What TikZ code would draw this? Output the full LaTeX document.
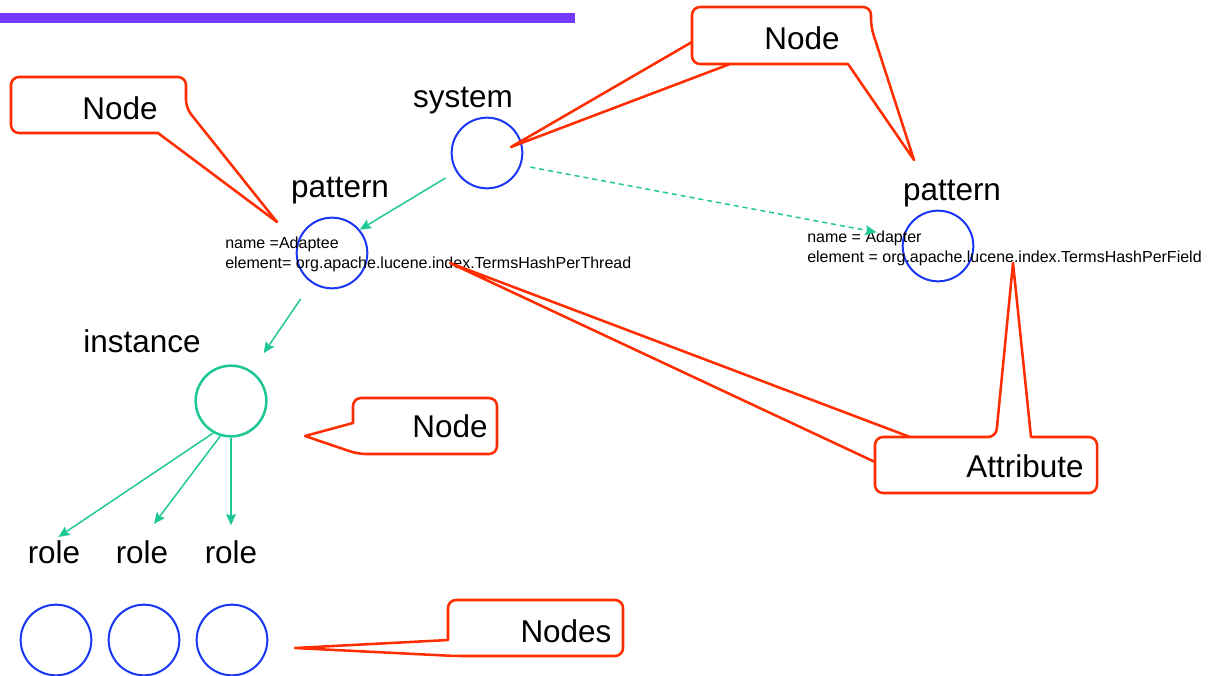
\documentclass[tikz,border=0pt]{standalone}
\usepackage{fontspec}
\setmainfont{Liberation Sans}
\usetikzlibrary{arrows.meta}

\definecolor{nodeblue}{RGB}{25,55,245}
\definecolor{calloutred}{RGB}{255,45,0}
\definecolor{linkteal}{RGB}{30,200,150}
\definecolor{barpurple}{RGB}{116,58,255}

\tikzset{
  bigtext/.style={font=\fontsize{23.6}{28}\selectfont, inner sep=0pt, anchor=base},
  attrtext/.style={font=\fontsize{12}{15}\selectfont, inner sep=0pt, anchor=north west, align=left},
  elemnode/.style={circle, draw=nodeblue, line width=1.5pt, minimum size=53pt, inner sep=0pt},
  instnode/.style={circle, draw=linkteal, line width=1.9pt, minimum size=53pt, inner sep=0pt},
  link/.style={draw=linkteal, line width=1.1pt, -{Stealth[length=8.5pt,width=7.5pt,inset=1.5pt]}},
  callout/.style={draw=calloutred, line width=1.9pt, line join=round, rounded corners=6pt},
}

\begin{document}
\begin{tikzpicture}[x=0.75pt,y=0.75pt,yscale=-1]
\useasboundingbox (0,0) rectangle (1212,675);

%Shape: Rectangle
\fill[barpurple] (0,13) rectangle (575,23);

%Shape: Circle
\node[elemnode] (sys) at (487,153) {};
\node[elemnode] (patL) at (332,253) {};
\node[elemnode] (patR) at (938,246) {};
\node[instnode] (inst) at (231,401) {};
\node[elemnode] (roleCircA) at (56,640) {};
\node[elemnode] (roleCircB) at (144,640) {};
\node[elemnode] (roleCircC) at (232,640) {};

% Text Node
\node[bigtext] (sysLbl) at (463,107) {system};
\node[bigtext] (patLLbl) at (340,197) {pattern};
\node[bigtext] (patRLbl) at (952,200) {pattern};
\node[bigtext] (instLbl) at (142,352) {instance};
\node[bigtext] (roleA) at (54,563) {role};
\node[bigtext] (roleB) at (142,563) {role};
\node[bigtext] (roleC) at (231,563) {role};

% Text Node
\node[attrtext] (patLAttr) at (225,237) {name =Adaptee\\element= org.apache.lucene.index.TermsHashPerThread};
\node[attrtext] (patRAttr) at (807,231) {name = Adapter\\element = org.apache.lucene.index.TermsHashPerField};

%Straight Lines
\draw[link, shorten <=9pt] (sys) -- (patL.40);
\draw[link, shorten <=14.5pt, shorten >=16pt] (patL) -- (inst);
\draw[link, dash pattern=on 3.75pt off 3pt, shorten <=7pt, shorten >=20pt] (sys.340) -- (patR.166);
\draw[link, shorten >=4pt] (inst.241) -- (roleA.north);
\draw[link, shorten >=15pt] (inst.253) -- (roleB.north);
\draw[link, shorten >=11pt] (inst.270) -- (roleC.north);

% callout tips
\coordinate (tipTL) at (277,222);
\coordinate (tipSys) at (511,147);
\coordinate (tipPatR) at (914,160);
\coordinate (tipAttrL) at (450,263);
\coordinate (tipAttrR) at (1013,263);
\coordinate (tipInst) at (305,436);
\coordinate (tipRoles) at (295,648);

%Shape: Callout
\draw[callout] (100,77) -- (186,77) -- (186,108) [sharp corners] -- (tipTL) -- (158,133) [rounded corners=6pt] -- (11,133) -- (11,77) -- cycle;
\draw[callout] (692,35) -- (692,7) -- (871,7) -- (871,27) [sharp corners] -- (tipPatR) -- (848,64) [rounded corners=6pt] -- (692,64) -- cycle;
\draw[callout, sharp corners] (692,42) -- (tipSys) -- (730,64);
\draw[callout] (425,398) -- (497,398) -- (497,454) -- (358,454) [sharp corners] -- (tipInst) -- (353,423) [rounded corners=6pt] -- (353,398) -- cycle;
\draw[callout] (875,465) -- (875,437) -- (996,437) [sharp corners] -- (tipAttrR) -- (1031,437) [rounded corners=6pt] -- (1097,437) -- (1097,493) -- (875,493) -- cycle;
\draw[callout, sharp corners] (910,437) -- (tipAttrL) -- (875,462);
\draw[callout] (535,600) -- (623,600) -- (623,656) -- (455,656) [sharp corners] -- (tipRoles) -- (448,640) [rounded corners=6pt] -- (448,600) -- cycle;

% Text Node
\node[bigtext] (noteTL) at (120,119) {Node};
\node[bigtext] (noteTR) at (802,49) {Node};
\node[bigtext] (noteInst) at (450,437) {Node};
\node[bigtext] (noteAttr) at (1025,477) {Attribute};
\node[bigtext] (noteRoles) at (566,642) {Nodes};

\end{tikzpicture}
\end{document}
